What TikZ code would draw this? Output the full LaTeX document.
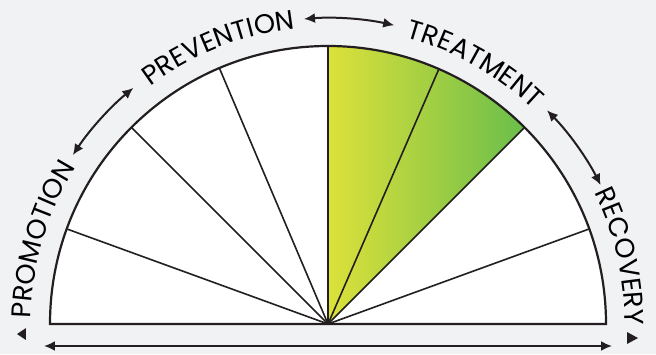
\documentclass[tikz,border=0pt]{standalone}
\usepackage{fontspec}
\setmainfont{Poppins}
\usetikzlibrary{arrows.meta,decorations.text}

\definecolor{panelbg}{RGB}{241,242,244}
\definecolor{inkdark}{RGB}{35,31,32}
\definecolor{phaseyellow}{RGB}{221,225,58}
\definecolor{phasegreen}{RGB}{106,190,75}
\newcommand{\phasefont}{\fontsize{13.5}{13.5}\selectfont}

\begin{document}
\begin{tikzpicture}[
    x=0.5pt, y=0.5pt,
    rim/.style={
        draw=inkdark,
        line width=1.1pt
    },
    spoke/.style={
        draw=inkdark,
        line width=0.8pt
    },
    span/.style={
        draw=inkdark,
        line width=1pt,
        {Latex[length=5.5pt,width=5pt]}-{Latex[length=5.5pt,width=5pt]}
    },
    phase/.style={
        decoration={
            text along path,
            text={|\phasefont|#1},
            text align=center
        },
        decorate
    }
]
    % --- Canvas ---
    \useasboundingbox[fill=panelbg] (-328,-30) rectangle (328,324);
    \coordinate (hub) at (0,0);

    % --- Half disc ---
    \fill[white] (-278,0) arc[start angle=180, end angle=0, radius=278] -- cycle;
    \fill[left color=phaseyellow, right color=phasegreen]
        (hub) -- (90:278) arc[start angle=90, end angle=45, radius=278] -- cycle;
    \foreach \a in {20,45,66.5,90,113,135,160}
        \draw[spoke] (hub) -- (\a:278);
    \draw[rim] (-278,0) arc[start angle=180, end angle=0, radius=278] -- cycle;

    % --- Phase labels ---
    \path[phase=PROMOTION] (183.5:297) arc[start angle=183.5, end angle=143.5, radius=297];
    \path[phase=PREVENTION] (131.5:297) arc[start angle=131.5, end angle=91.5, radius=297];
    \path[phase=TREATMENT] (80.5:297) arc[start angle=80.5, end angle=40.5, radius=297];
    \path[phase=RECOVERY] (33:297) arc[start angle=33, end angle=-7, radius=297];

    % --- Arcs between phases ---
    \coordinate (promprev) at (146.5:306);
    \coordinate (prevtreat) at (94.5:306);
    \coordinate (treatrec) at (44.3:306);
    \draw[span] (promprev) arc[start angle=146.5, end angle=129.5, radius=306];
    \draw[span] (prevtreat) arc[start angle=94.5, end angle=77.5, radius=306];
    \draw[span] (treatrec) arc[start angle=44.3, end angle=27, radius=306];

    % --- Base arrow ---
    \coordinate (baseleft) at (-284,-22);
    \coordinate (baseright) at (284,-22);
    \draw[span] (baseleft) -- (baseright);

    % end marks
    \fill[inkdark] (-311,-10) -- (-302,-4) -- (-302,-16) -- cycle;
    \fill[inkdark] (310,-14) -- (299,-8) -- (299,-20) -- cycle;
\end{tikzpicture}
\end{document}
